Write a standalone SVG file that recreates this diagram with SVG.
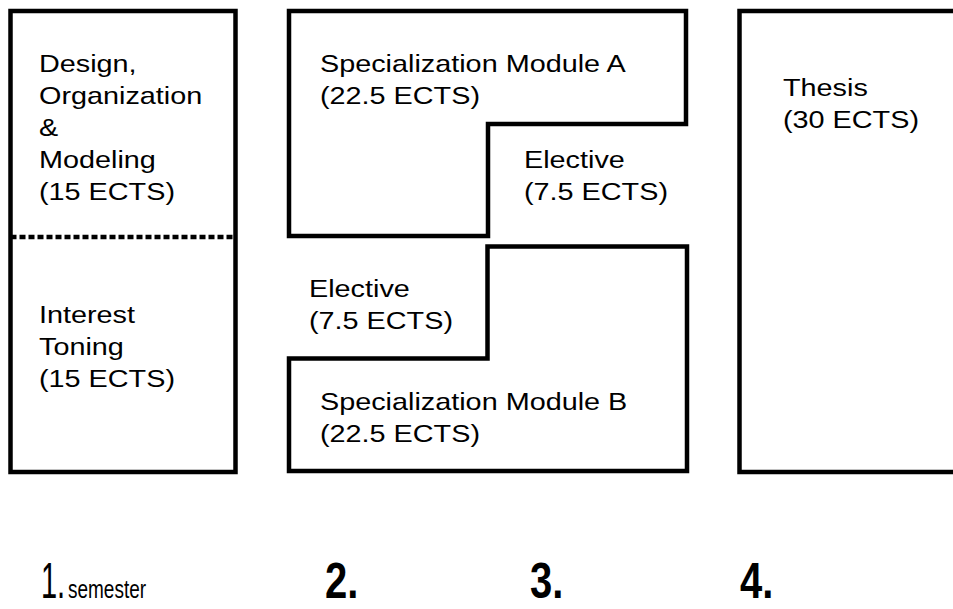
<svg xmlns="http://www.w3.org/2000/svg" width="953" height="609" viewBox="0 0 953 609">
<style>
.box{fill:#fff;stroke:#000;stroke-width:4.5;stroke-linejoin:miter}
.t{font-family:"Liberation Sans",Arial,sans-serif;font-size:24px;fill:#000}
.sem{font-family:"Liberation Sans",Arial,sans-serif;fill:#000}
</style>
<rect width="953" height="609" fill="#fff"/>
<g id="sem1">
<rect class="box" x="10.5" y="11" width="225" height="461"/>
<line x1="10.5" y1="237" x2="235.5" y2="237" stroke="#000" stroke-width="4.5" stroke-dasharray="6,3"/>
<text class="t" transform="translate(39,72) scale(1.2,1)">Design,</text>
<text class="t" transform="translate(39,104) scale(1.2,1)">Organization</text>
<text class="t" transform="translate(39,136) scale(1.2,1)">&amp;</text>
<text class="t" transform="translate(39,168) scale(1.2,1)">Modeling</text>
<text class="t" transform="translate(39,200) scale(1.2,1)">(15 ECTS)</text>
<text class="t" transform="translate(39,323) scale(1.2,1)">Interest</text>
<text class="t" transform="translate(39,355) scale(1.2,1)">Toning</text>
<text class="t" transform="translate(39,387) scale(1.2,1)">(15 ECTS)</text>
</g>
<g id="moduleA">
<path class="box" d="M289 11 H686 V124 H488 V236 H289 Z"/>
<text class="t" transform="translate(320,72) scale(1.2,1)">Specialization Module A</text>
<text class="t" transform="translate(320,104) scale(1.2,1)">(22.5 ECTS)</text>
</g>
<g id="electiveA">
<text class="t" transform="translate(524,168) scale(1.2,1)">Elective</text>
<text class="t" transform="translate(524,200) scale(1.2,1)">(7.5 ECTS)</text>
</g>
<g id="moduleB">
<path class="box" d="M487.5 246.5 H687 V471 H289 V358.5 H487.5 Z"/>
<text class="t" transform="translate(320,410) scale(1.2,1)">Specialization Module B</text>
<text class="t" transform="translate(320,442) scale(1.2,1)">(22.5 ECTS)</text>
</g>
<g id="electiveB">
<text class="t" transform="translate(309,297) scale(1.2,1)">Elective</text>
<text class="t" transform="translate(309,329) scale(1.2,1)">(7.5 ECTS)</text>
</g>
<g id="thesis">
<rect class="box" x="739.5" y="11" width="230" height="461"/>
<text class="t" transform="translate(783,96) scale(1.2,1)">Thesis</text>
<text class="t" transform="translate(783,128) scale(1.2,1)">(30 ECTS)</text>
</g>
<g id="labels">
<text class="sem" transform="translate(41,598) scale(0.58,1)" font-size="50">1.</text>
<text class="sem" transform="translate(68,598) scale(0.76,1)" font-size="25">semester</text>
<text class="sem" transform="translate(325,598) scale(0.8,1)" font-size="50" font-weight="bold">2.</text>
<text class="sem" transform="translate(530,598) scale(0.8,1)" font-size="50" font-weight="bold">3.</text>
<text class="sem" transform="translate(740,598) scale(0.8,1)" font-size="50" font-weight="bold">4.</text>
</g>
</svg>
